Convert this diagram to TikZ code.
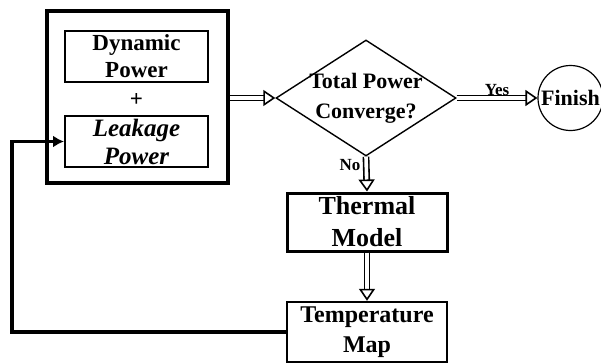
\documentclass[tikz,border=0pt]{standalone}
\usepackage{fontspec}
\setmainfont{Liberation Serif}
\usetikzlibrary{arrows.meta,positioning,shapes.geometric}
\tikzset{
  box/.style={draw,line width=1pt,inner sep=1pt,align=center,font=\bfseries\fontsize{11.5}{13.5}\selectfont},
  dblarrow/.style={double,double distance=1.8pt,line width=0.8pt,-{Triangle[open,length=6pt,width=8pt]}},
  feedback/.style={line width=1.7pt,-{Latex[length=5.5pt,width=6pt]}},
  tag/.style={font=\bfseries\fontsize{8.5}{10}\selectfont,inner sep=1pt}
}

\begin{document}
\begin{tikzpicture}[x=0.5pt,y=-0.5pt]
    \useasboundingbox (0,0) rectangle (601,364);
    % power block
    \node[draw,line width=2pt,minimum width=90.5pt,minimum height=86pt] (outer) at (137.5,97) {};
    \node[box,minimum width=71.5pt,minimum height=25.5pt] (dyn) at (136.5,56.5) {Dynamic\\Power};
    \node[font=\bfseries\fontsize{11.5}{13.5}\selectfont] (plus) at (136.5,100) {+};
    \node[box,minimum width=71.5pt,minimum height=25.5pt,
          font=\bfseries\itshape\fontsize{12.5}{14}\selectfont] (leak) at (136.5,141.5) {Leakage\\Power};
    % decision and end
    \node[draw,diamond,line width=0.7pt,inner sep=0pt,minimum width=90pt,minimum height=58pt,
          label={[align=center,font=\bfseries\fontsize{11}{15}\selectfont]center:Total Power\\Converge?}] (conv) at (366,98) {};
    \node[draw,circle,line width=0.6pt,inner sep=0pt,minimum size=32.5pt,
          font=\bfseries\fontsize{11}{13}\selectfont] (finish) at (570.5,98) {Finish};
    % thermal loop
    \node[box,line width=1.5pt,minimum width=80pt,minimum height=29pt,
          font=\bfseries\fontsize{13}{16}\selectfont] (therm) at (367,222) {Thermal\\Model};
    \node[box,line width=1.2pt,minimum width=80pt,minimum height=30pt,
          font=\bfseries\fontsize{12}{15}\selectfont] (temp) at (367,332) {Temperature\\Map};
    \coordinate (loop) at (12,332);

    \draw[dblarrow] (outer.east |- conv.west) -- (conv.west);
    \draw[dblarrow] (conv.east) -- node[tag,above] {Yes} (finish.west);
    \draw[dblarrow] (conv.south) -- node[tag,left=1.5pt,pos=0.25] {No} (therm.north);
    \draw[dblarrow] (therm.south) -- (temp.north);
    \draw[feedback] (temp.west) -- (loop) |- (leak.west);
  \end{tikzpicture}
\end{document}
